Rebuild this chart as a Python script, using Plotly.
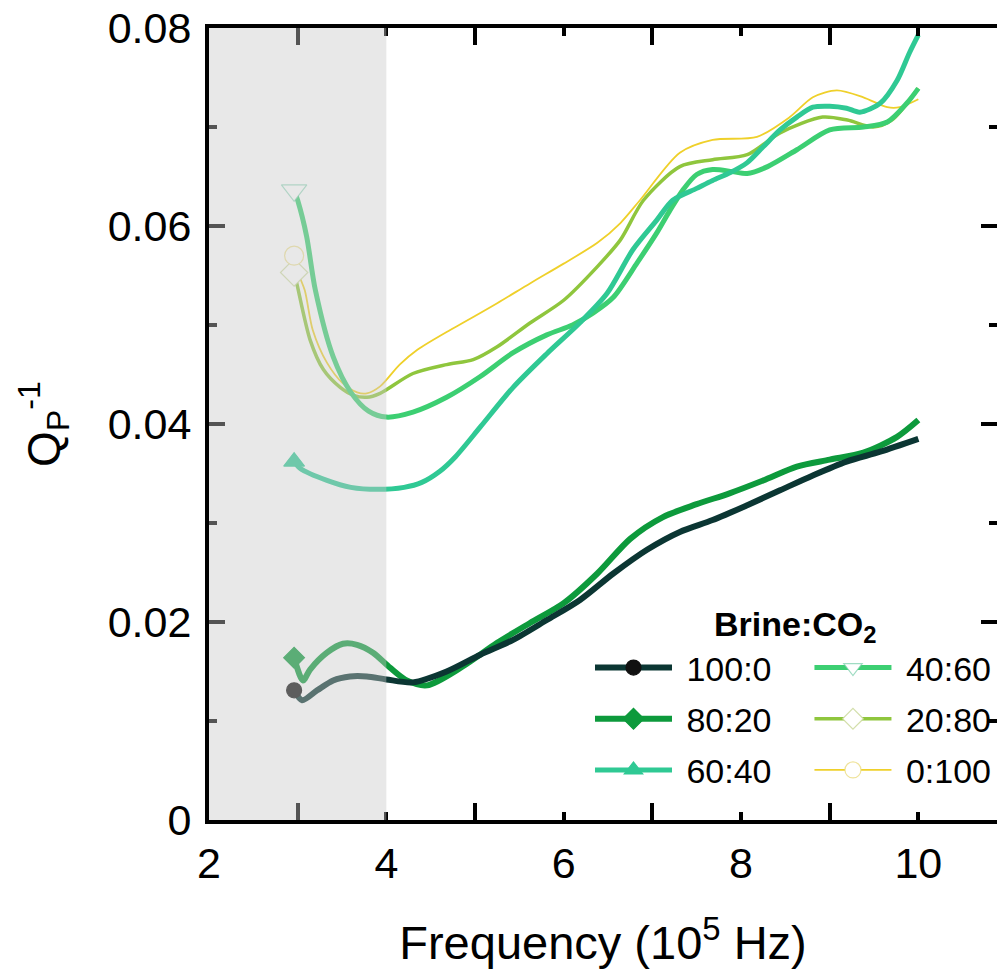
import plotly.graph_objects as go

# ---- data (frequency in 1e5 Hz, attenuation Qp^-1) ----
labels = ["100:0", "80:20", "60:40", "40:60", "20:80", "0:100"]

x_100_0 = [2.96, 3.05, 3.22, 3.4, 3.59, 3.78, 4.0, 4.3, 4.68, 5.06, 5.43, 5.81, 6.18, 6.56, 6.94,
           7.31, 7.68, 8.07, 8.44, 8.81, 9.19, 9.57, 10.0]
y_100_0 = [0.0131, 0.0121, 0.0131, 0.0141, 0.0145, 0.0145, 0.0142, 0.0139, 0.0150, 0.0167, 0.0182,
           0.0202, 0.0222, 0.0249, 0.0273, 0.0291, 0.0303, 0.0318, 0.0333, 0.0348, 0.0362, 0.0372, 0.0385]

x_80_20 = [2.96, 3.06, 3.14, 3.33, 3.51, 3.67, 3.85, 4.04, 4.23, 4.46, 4.86, 5.25, 5.62, 6.0, 6.38,
           6.75, 7.12, 7.5, 7.87, 8.25, 8.63, 9.0, 9.38, 9.76, 10.0]
y_80_20 = [0.0164, 0.0141, 0.0152, 0.0169, 0.0178, 0.0177, 0.0169, 0.0154, 0.0141, 0.0136, 0.0155,
           0.0179, 0.0199, 0.0219, 0.0249, 0.0284, 0.0306, 0.0319, 0.0330, 0.0343, 0.0357, 0.0364,
           0.0371, 0.0387, 0.0404]

x_60_40 = [2.96, 3.03, 3.33, 3.6, 3.9, 4.2, 4.4, 4.6, 4.78, 5.06, 5.43, 5.81, 6.18, 6.49, 6.78, 7.05,
           7.23, 7.5, 7.68, 7.88, 8.07, 8.25, 8.44, 8.63, 8.81, 9.0, 9.19, 9.34, 9.57, 9.76, 9.9, 10.0]
y_60_40 = [0.0362, 0.0355, 0.0343, 0.0336, 0.0334, 0.0336, 0.0341, 0.0352, 0.0367, 0.0397, 0.0437,
           0.0471, 0.0502, 0.0532, 0.0576, 0.0606, 0.0626, 0.0638, 0.0646, 0.0654, 0.0664, 0.0680,
           0.0697, 0.0710, 0.0720, 0.0721, 0.0719, 0.0715, 0.0724, 0.0747, 0.0775, 0.0793]

x_40_60 = [2.96, 3.0, 3.1, 3.2, 3.4, 3.6, 3.8, 4.0, 4.3, 4.68, 5.06, 5.43, 5.81, 6.1, 6.33, 6.56,
           6.83, 7.05, 7.2, 7.35, 7.5, 7.68, 7.9, 8.07, 8.3, 8.63, 9.0, 9.38, 9.65, 9.87, 10.0]
y_40_60 = [0.0636, 0.0626, 0.0590, 0.0535, 0.0468, 0.0432, 0.0413, 0.0407, 0.0412, 0.0427, 0.0448,
           0.0472, 0.0490, 0.0500, 0.0512, 0.0528, 0.0563, 0.0593, 0.0616, 0.0637, 0.0652, 0.0657,
           0.0655, 0.0653, 0.0660, 0.0677, 0.0697, 0.0700, 0.0705, 0.0724, 0.0739]

x_20_80 = [2.96, 2.99, 3.14, 3.29, 3.48, 3.63, 3.78, 3.93, 4.3, 4.68, 4.98, 5.25, 5.62, 6.0, 6.38,
           6.64, 6.9, 7.31, 7.68, 8.07, 8.44, 8.92, 9.2, 9.49, 9.7, 10.0]
y_20_80 = [0.0553, 0.0542, 0.0485, 0.0455, 0.0437, 0.0429, 0.0427, 0.0431, 0.0451, 0.0460, 0.0465,
           0.0478, 0.0502, 0.0525, 0.0559, 0.0586, 0.0626, 0.0660, 0.0667, 0.0672, 0.0694, 0.0710,
           0.0707, 0.0700, 0.0707, 0.0739]

x_0_100 = [2.96, 2.99, 3.08, 3.17, 3.33, 3.51, 3.67, 3.78, 3.93, 4.15, 4.35, 4.72, 4.86, 5.25, 5.62,
           6.0, 6.38, 6.64, 6.86, 7.31, 7.68, 8.18, 8.55, 8.81, 9.08, 9.38, 9.65, 9.79, 10.0]
y_0_100 = [0.0570, 0.0556, 0.0535, 0.0495, 0.0462, 0.0441, 0.0432, 0.0431, 0.0438, 0.0460, 0.0475,
           0.0495, 0.0502, 0.0522, 0.0542, 0.0562, 0.0583, 0.0603, 0.0626, 0.0674, 0.0687, 0.0690,
           0.0710, 0.0730, 0.0737, 0.0730, 0.0720, 0.0720, 0.0728]

xs = [x_100_0, x_80_20, x_60_40, x_40_60, x_20_80, x_0_100]
ys = [y_100_0, y_80_20, y_60_40, y_40_60, y_20_80, y_0_100]

# ---- styles ----
line_colors = ["#0b3633", "#0d9a3c", "#2fc994", "#3ccf72", "#8fc63d", "#efd02a"]
line_widths = [6, 6, 5, 5, 3.5, 1.8]
symbols = ["circle", "diamond", "triangle-up", "triangle-down", "diamond", "circle"]
m_fill = ["#111111", "#0d9a3c", "#2fc994", "white", "white", "white"]
m_line = ["#111111", "#0d9a3c", "#2fc994", "rgba(120,205,170,0.7)", "rgba(200,215,150,0.8)", "rgba(235,220,130,0.8)"]
m_size = [15, 16, 18, 22, 21, 19]
legend_ref = ["legend", "legend", "legend", "legend2", "legend2", "legend2"]
legend_rank = [1, 2, 3, 4, 5, 6]
draw_order = [1, 0, 5, 4, 3, 2]
PAD = "\u00a0"

FONT = "Liberation Sans, Arial, Helvetica, sans-serif"

fig = go.Figure()

for i in draw_order:
    fig.add_trace(go.Scatter(
        x=xs[i], y=ys[i], mode="lines", showlegend=False, hoverinfo="skip",
        line=dict(color=line_colors[i], width=line_widths[i], shape="spline", smoothing=0.8),
    ))

for i in range(6):
    fig.add_trace(go.Scatter(
        x=xs[i][:1], y=ys[i][:1], mode="lines+markers", name=PAD + labels[i],
        legend=legend_ref[i], legendrank=legend_rank[i], legendgroup="g%d" % i,
        line=dict(color=line_colors[i], width=line_widths[i]),
        marker=dict(symbol=symbols[i], size=m_size[i], color=m_fill[i],
                    line=dict(color=m_line[i], width=1.2)),
    ))

# shaded low-frequency band (drawn above the data, semi-transparent)
fig.add_shape(type="rect", xref="x", yref="y", x0=2, x1=4, y0=0, y1=0.08,
              fillcolor="rgba(200,200,200,0.42)", line=dict(width=0), layer="above")

fig.add_annotation(text="<b>Brine:CO<sub>2</sub></b>", xref="paper", yref="paper",
                   x=0.7437, y=0.2437, xanchor="center", yanchor="middle", showarrow=False,
                   font=dict(family=FONT, size=34, color="black"))

axis_common = dict(showline=True, linecolor="black", linewidth=4, mirror="ticks",
                   ticks="inside", tickcolor="black", tickwidth=3.5, showgrid=False,
                   zeroline=False, tickfont=dict(family=FONT, size=43, color="black"))

fig.update_xaxes(range=[2, 10.887], tick0=2, dtick=2, ticklen=8,
                 minor=dict(tick0=2, dtick=1, ticklen=17, ticks="inside", tickcolor="black", tickwidth=3.5),
                 ticklabelstandoff=2,
                 title=dict(text="Frequency (10<sup>5</sup> Hz)", font=dict(family=FONT, size=47, color="black"),
                            standoff=42),
                 **axis_common)
fig.update_yaxes(range=[0, 0.08], tick0=0, dtick=0.02, ticklen=16,
                 minor=dict(tick0=0, dtick=0.01, ticklen=8, ticks="inside", tickcolor="black", tickwidth=3.5),
                 ticklabelstandoff=5,
                 title=dict(text="Q<sub>P</sub><sup>-1</sup>", font=dict(family=FONT, size=46, color="black"),
                            standoff=34),
                 **axis_common)

legend_common = dict(orientation="v", xanchor="left", yanchor="top", bgcolor="rgba(0,0,0,0)",
                     font=dict(family=FONT, size=34, color="black"), itemwidth=77,
                     tracegroupgap=4, borderwidth=0)

fig.update_layout(
    width=997, height=975,
    margin=dict(l=209, r=0, t=28, b=155, autoexpand=False),
    plot_bgcolor="white", paper_bgcolor="white",
    font=dict(family=FONT, color="black"),
    legend=dict(x=0.4835, y=0.2286, **legend_common),
    legend2=dict(x=0.762, y=0.2286, **legend_common),
)

fig.write_html("out.html")
